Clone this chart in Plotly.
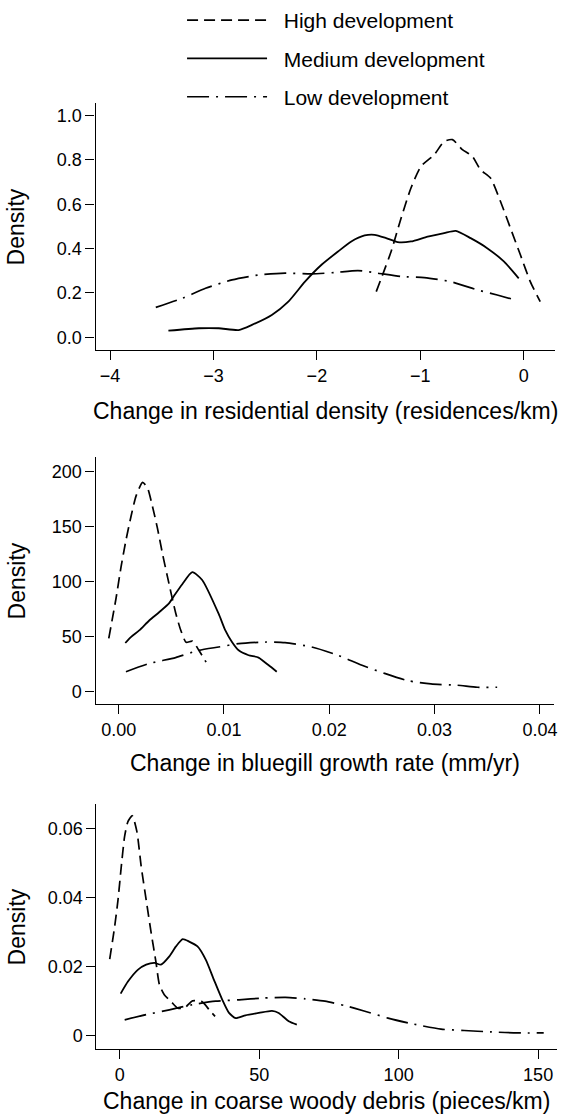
import plotly.graph_objects as go

FONT = "Liberation Sans, Arial, Helvetica, sans-serif"

# ---------------- Panel 1: residential density ----------------
res_high_x = [-1.426, -1.282, -1.186, -1.09, -0.994, -0.865, -0.769, -0.689, -0.593, -0.497, -0.417, -0.321, -0.224, -0.128, -0.032, 0.064, 0.16]
res_high_y = [0.206, 0.387, 0.537, 0.673, 0.77, 0.823, 0.883, 0.891, 0.846, 0.816, 0.755, 0.718, 0.612, 0.492, 0.372, 0.251, 0.161]
res_med_x = [-3.436, -3.141, -2.949, -2.756, -2.628, -2.436, -2.276, -2.115, -1.955, -1.795, -1.667, -1.538, -1.442, -1.33, -1.218, -1.09, -0.929, -0.769, -0.657, -0.513, -0.353, -0.192, -0.048]
res_med_y = [0.030, 0.041, 0.041, 0.033, 0.056, 0.101, 0.161, 0.251, 0.327, 0.387, 0.432, 0.459, 0.462, 0.447, 0.429, 0.432, 0.454, 0.470, 0.480, 0.447, 0.402, 0.342, 0.266]
res_low_x = [-3.558, -3.301, -3.077, -2.821, -2.564, -2.308, -2.051, -1.827, -1.603, -1.41, -1.186, -0.962, -0.705, -0.449, -0.256, -0.064]
res_low_y = [0.135, 0.176, 0.221, 0.259, 0.281, 0.289, 0.286, 0.292, 0.301, 0.289, 0.274, 0.269, 0.251, 0.214, 0.191, 0.166]

# ---------------- Panel 2: bluegill growth rate ----------------
blu_high_x = [-0.00094, -0.00025, 0.00023, 0.0007, 0.00117, 0.00164, 0.00227, 0.00274, 0.00321, 0.00368, 0.00415, 0.00463, 0.00542, 0.00589, 0.0064, 0.0070, 0.0076, 0.0083]
blu_high_y = [48.5, 84.9, 113.6, 137.9, 159.0, 177.3, 190.0, 184.9, 168.2, 148.5, 125.8, 104.5, 71.3, 56.1, 45.0, 46.0, 38.0, 27.0]
blu_med_x = [0.00063, 0.00116, 0.00195, 0.0029, 0.00384, 0.00478, 0.00526, 0.00604, 0.00699, 0.00793, 0.0095, 0.01013, 0.01076, 0.01139, 0.01234, 0.01328, 0.01422, 0.01501]
blu_med_y = [44.3, 49.7, 55.7, 64.7, 72.2, 80.2, 87.1, 97.6, 108.5, 101.5, 70.7, 55.7, 45.2, 37.7, 33.2, 31.1, 24.3, 18.3]
blu_low_x = [0.00069, 0.0029, 0.00541, 0.00762, 0.0095, 0.01139, 0.01391, 0.0158, 0.01832, 0.02083, 0.02304, 0.02524, 0.02744, 0.02965, 0.03216, 0.03405, 0.03594]
blu_low_y = [18.3, 25.7, 31.1, 37.7, 40.7, 43.7, 45.2, 44.6, 40.7, 33.2, 24.3, 16.8, 10.2, 7.2, 6.0, 4.2, 4.2]

# ---------------- Panel 3: coarse woody debris ----------------
cwd_high_x = [-3.56, -1.78, -0.59, 0.59, 1.78, 2.97, 4.51, 6.18, 7.72, 9.5, 11.3, 13.06, 14.25, 16.0, 18.4, 20.8, 23.2, 26.1, 29.7, 32.1, 34.2]
cwd_high_y = [0.0222, 0.0317, 0.0394, 0.0491, 0.0578, 0.0621, 0.0638, 0.0592, 0.0491, 0.0394, 0.0298, 0.0211, 0.0148, 0.0119, 0.00995, 0.0080, 0.0080, 0.0101, 0.0098, 0.0075, 0.0056]
cwd_med_x = [0.36, 2.97, 6.5, 9.5, 12.5, 14.8, 17.8, 20.2, 22.6, 24.9, 27.9, 30.9, 33.8, 36.8, 39.2, 41.6, 45.1, 49.9, 54.6, 57.0, 60.6, 63.5]
cwd_med_y = [0.0122, 0.0157, 0.0191, 0.0206, 0.0211, 0.0206, 0.0230, 0.0259, 0.0280, 0.0273, 0.0259, 0.0220, 0.0162, 0.0104, 0.0066, 0.0051, 0.0059, 0.0066, 0.0072, 0.0066, 0.0042, 0.0032]
cwd_low_x = [1.8, 9.5, 17.8, 26.1, 34.4, 42.8, 51.1, 59.4, 66.5, 73.6, 80.8, 87.9, 96.2, 104.5, 115.2, 123.5, 133.0, 142.5, 152.0]
cwd_low_y = [0.0046, 0.0061, 0.0075, 0.0090, 0.0100, 0.0104, 0.0109, 0.0111, 0.0107, 0.0100, 0.0087, 0.0071, 0.0051, 0.0035, 0.0019, 0.0015, 0.0011, 0.0008, 0.0008]

series_names = ["High development", "Medium development", "Low development"]

# tick labels
p1_xticks = [-4, -3, -2, -1, 0]
p1_xtext = ["\u22124", "\u22123", "\u22122", "\u22121", "0"]
p1_yticks = [0.0, 0.2, 0.4, 0.6, 0.8, 1.0]
p1_ytext = ["0.0", "0.2", "0.4", "0.6", "0.8", "1.0"]
p2_xticks = [0.0, 0.01, 0.02, 0.03, 0.04]
p2_xtext = ["0.00", "0.01", "0.02", "0.03", "0.04"]
p2_yticks = [0, 50, 100, 150, 200]
p2_ytext = ["0", "50", "100", "150", "200"]
p3_xticks = [0, 50, 100, 150]
p3_xtext = ["0", "50", "100", "150"]
p3_yticks = [0, 0.02, 0.04, 0.06]
p3_ytext = ["0", "0.02", "0.04", "0.06"]

x_titles = ["Change in residential density (residences/km)",
            "Change in bluegill growth rate (mm/yr)",
            "Change in coarse woody debris (pieces/km)"]

W, H = 580, 1115

styles = [
    dict(dash="11px,6px", width=1.7),
    dict(dash="solid", width=1.8),
    dict(dash="22px,7px,2px,7px", width=1.7),
]

panels = [
    [(res_high_x, res_high_y), (res_med_x, res_med_y), (res_low_x, res_low_y)],
    [(blu_high_x, blu_high_y), (blu_med_x, blu_med_y), (blu_low_x, blu_low_y)],
    [(cwd_high_x, cwd_high_y), (cwd_med_x, cwd_med_y), (cwd_low_x, cwd_low_y)],
]

NB = "\u00a0\u00a0"
fig = go.Figure()
for pi, panel in enumerate(panels):
    suffix = "" if pi == 0 else str(pi + 1)
    for si, (xs, ys) in enumerate(panel):
        fig.add_trace(go.Scatter(
            x=xs, y=ys, mode="lines",
            name=NB + series_names[si],
            legendgroup="g%d" % si,
            showlegend=(pi == 0),
            line=dict(color="black", width=styles[si]["width"], dash=styles[si]["dash"],
                      shape="spline", smoothing=0.6),
            xaxis="x" + suffix, yaxis="y" + suffix,
        ))

# pixel layout of plot areas (left, right, top, bottom)
boxes = [(96, 558, 103, 350), (96, 557, 457, 704), (97, 560, 804, 1049)]
xranges = [[-4.141, 0.304], [-0.0022, 0.04135], [-8.3, 156.8]]
yranges = [[-0.057, 1.056], [-11, 213], [-0.00386, 0.0672]]
xt = [(p1_xticks, p1_xtext), (p2_xticks, p2_xtext), (p3_xticks, p3_xtext)]
yt = [(p1_yticks, p1_ytext), (p2_yticks, p2_ytext), (p3_yticks, p3_ytext)]
xtitle_y = [411, 763, 1101]

axis_common = dict(showline=True, linecolor="black", linewidth=1.3, ticks="outside",
                   ticklen=9, tickwidth=1.3, tickcolor="black", showgrid=False,
                   zeroline=False, tickfont=dict(family=FONT, size=18, color="black"))

layout = {}
annotations = []
for i in range(3):
    l, r, t, b = boxes[i]
    sfx = "" if i == 0 else str(i + 1)
    layout["xaxis" + sfx] = dict(axis_common, domain=[l / W, r / W], range=xranges[i],
                                 tickvals=xt[i][0], ticktext=xt[i][1],
                                 anchor="y" + sfx)
    layout["yaxis" + sfx] = dict(axis_common, domain=[1 - b / H, 1 - t / H], range=yranges[i],
                                 tickvals=yt[i][0], ticktext=yt[i][1],
                                 anchor="x" + sfx)
    annotations.append(dict(text=x_titles[i], xref="paper", yref="paper",
                            x=(l + r) / 2 / W, y=1 - xtitle_y[i] / H,
                            xanchor="center", yanchor="middle", showarrow=False,
                            font=dict(family=FONT, size=23, color="black")))
    annotations.append(dict(text="Density", xref="paper", yref="paper",
                            x=17 / W, y=1 - (t + b) / 2 / H, textangle=-90,
                            xanchor="center", yanchor="middle", showarrow=False,
                            font=dict(family=FONT, size=23, color="black")))

fig.update_layout(
    width=W, height=H,
    margin=dict(l=0, r=0, t=0, b=0),
    paper_bgcolor="white", plot_bgcolor="white",
    showlegend=True,
    legend=dict(x=183 / W, y=1.0, xanchor="left", yanchor="top",
                font=dict(family=FONT, size=21, color="black"),
                itemwidth=80, tracegroupgap=8, traceorder="grouped",
                bgcolor="rgba(0,0,0,0)", borderwidth=0),
    annotations=annotations,
    **layout,
)

fig.write_html("out.html", config={"displayModeBar": False},
               post_script="document.body.style.margin='0';document.body.style.padding='0';")
